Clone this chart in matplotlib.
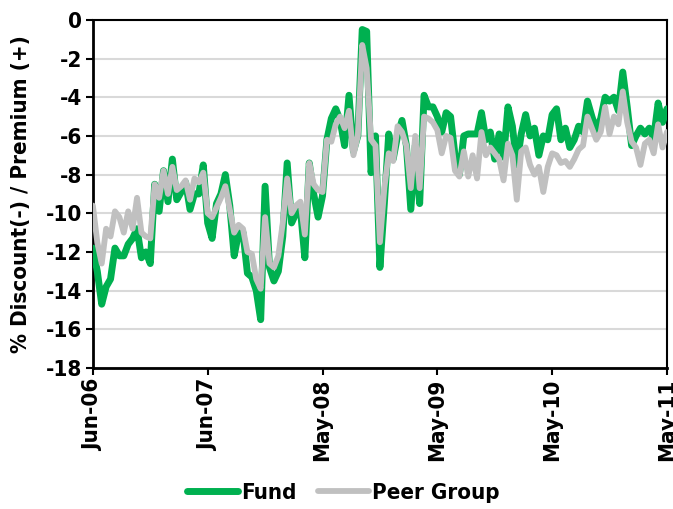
import matplotlib
matplotlib.use("Agg")
import matplotlib.pyplot as plt
import numpy as np

plt.rcParams['font.family'] = ['Liberation Sans Narrow', 'DejaVu Sans']
plt.rcParams['font.stretch'] = 'condensed'
plt.rcParams['font.weight'] = 'bold'

tick_labels = ["Jun-06", "Jun-07", "May-08", "May-09", "May-10", "May-11"]

fund = [-11.8, -13.0, -14.7, -13.8, -13.4, -11.8, -12.2, -12.2, -11.6, -11.3,
        -10.8, -12.3, -12.0, -12.6, -8.5, -9.9, -7.8, -9.4, -7.2, -9.3,
        -8.9, -8.4, -9.8, -9.0, -9.0, -7.5, -10.5, -11.3, -9.5, -9.0,
        -8.0, -9.6, -12.2, -11.0, -11.0, -13.1, -13.3, -14.0, -15.5, -8.6,
        -12.8, -13.5, -13.0, -11.2, -7.4, -10.5, -10.0, -9.8, -12.3, -7.4,
        -9.0, -10.2, -9.1, -6.2, -5.1, -4.6, -5.2, -6.5, -3.9, -6.8,
        -6.0, -0.5, -0.6, -7.9, -6.0, -12.8, -9.5, -5.9, -7.2, -6.0,
        -5.2, -6.5, -9.8, -6.5, -9.5, -3.9, -4.5, -4.5, -5.0, -5.8,
        -4.8, -5.0, -7.0, -8.0, -6.0, -5.9, -5.9, -5.9, -4.8, -6.2,
        -5.8, -7.2, -5.9, -7.1, -4.5, -5.5, -7.5, -5.9, -4.9, -6.0,
        -5.6, -7.0, -6.0, -6.2, -4.9, -4.6, -6.2, -5.6, -6.6, -6.2,
        -5.5, -5.8, -4.2, -5.0, -5.7, -5.1, -4.0, -4.2, -4.0, -4.7,
        -2.7, -4.5, -6.5, -6.0, -5.6, -5.9, -5.6, -6.1, -4.3, -5.3,
        -4.6]

peer = [-9.6, -11.5, -12.6, -10.8, -11.2, -9.9, -10.2, -11.0, -9.9, -10.8,
        -9.2, -11.0, -11.2, -11.3, -8.5, -9.2, -7.8, -9.0, -7.6, -8.8,
        -8.6, -8.3, -9.3, -8.2, -8.4, -7.9, -10.0, -10.2, -9.7, -9.2,
        -8.6, -9.8, -11.0, -10.6, -10.8, -12.0, -12.1, -13.4, -13.9, -10.2,
        -12.6, -12.8, -12.2, -10.5, -8.2, -10.0, -9.6, -9.4, -11.1, -7.4,
        -8.5, -8.8, -8.9, -6.2, -6.3, -5.4, -5.0, -5.6, -4.7, -7.0,
        -6.0, -1.3, -2.5, -6.2, -6.5, -11.5, -8.7, -6.9, -7.3, -5.5,
        -5.8, -6.5, -8.7, -6.0, -8.7, -5.0, -5.1, -5.3, -5.7, -6.9,
        -6.0, -6.1, -7.8, -8.1, -6.8, -8.1, -7.0, -8.2, -5.8, -7.0,
        -6.6, -6.9, -7.2, -8.3, -6.4, -7.0, -9.3, -6.8, -6.6, -7.5,
        -8.0, -7.6, -8.9, -7.6, -6.9, -7.0, -7.4, -7.3, -7.6, -7.2,
        -6.7, -6.5, -5.0, -5.6, -6.2, -5.8, -4.5, -5.9, -5.0, -5.4,
        -3.7, -5.3, -6.3, -6.6, -7.5, -6.4, -6.2, -6.9, -5.4, -6.6,
        -5.8]

x = np.arange(len(fund))

fig = plt.figure(figsize=(6.73, 5.09), dpi=100)
ax = fig.add_axes([0.138, 0.277, 0.853, 0.684])

ax.plot(x, fund, color='#00B050', lw=5.0, solid_joinstyle='round', solid_capstyle='round', label='Fund', zorder=3)
ax.plot(x, peer, color='#C0C0C0', lw=4.2, solid_joinstyle='round', solid_capstyle='round', label='Peer Group', zorder=4)

ax.set_xlim(0, len(fund) - 1)
ax.set_ylim(-18, 0)
ax.set_yticks(np.arange(-18, 1, 2))
ax.set_yticklabels([str(v) for v in range(-18, 1, 2)], fontsize=16, fontweight='bold')
step = (len(fund) - 1) / (len(tick_labels) - 1)
ax.set_xticks([i * step for i in range(len(tick_labels))])
ax.set_xticklabels(tick_labels, rotation=90, fontsize=16, fontweight='bold')

ax.grid(axis='y', color='#D9D9D9', lw=1.5, zorder=0)
ax.set_axisbelow(True)
for s in ['left', 'bottom']:
    ax.spines[s].set_linewidth(2)
for s in ['top', 'right']:
    ax.spines[s].set_linewidth(1.5)
ax.tick_params(axis='both', direction='out', length=5, width=1.5, pad=3)

ax.set_ylabel('% Discount(-) / Premium (+)', fontsize=16, fontweight='bold', labelpad=10)

fig.legend(loc='center', bbox_to_anchor=(0.51, 0.031), ncol=2, frameon=False,
           handlelength=2.3, handletextpad=0.1, columnspacing=1.0,
           prop={'weight': 'bold', 'size': 16, 'stretch': 'condensed'})

fig.savefig('out.png', dpi=100)
